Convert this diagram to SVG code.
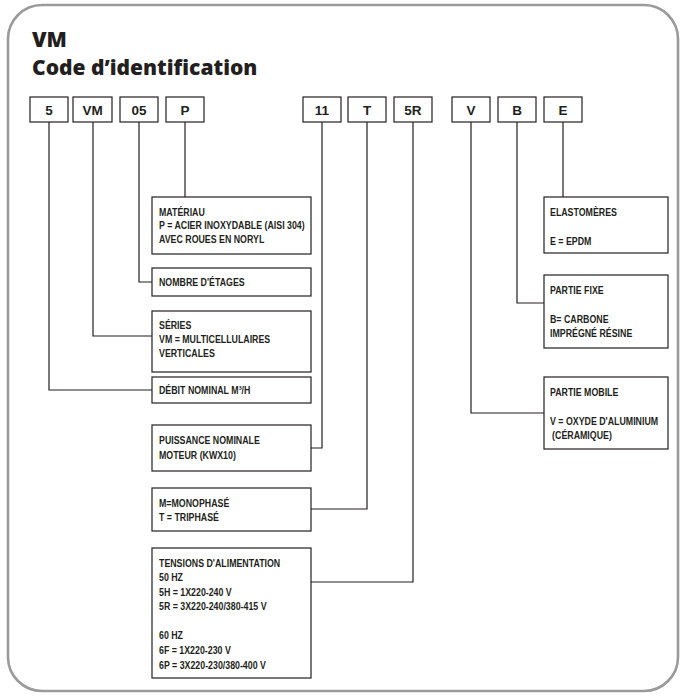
<svg xmlns="http://www.w3.org/2000/svg" width="680" height="697" viewBox="0 0 680 697">
<style>
.frame{fill:#fff;stroke:#9a9a9a;stroke-width:2.6}
.box{fill:#fff;stroke:#231f20;stroke-width:1.2}
.ln{fill:none;stroke:#231f20;stroke-width:1.2}
.title{font-family:"Open Sans","Liberation Sans",sans-serif;font-weight:800;font-size:21px;fill:#231f20}
.code{font-family:"Liberation Sans",Arial,sans-serif;font-weight:700;font-size:13.5px;fill:#231f20;text-anchor:middle}
.t{font-family:"Liberation Sans",Arial,sans-serif;font-weight:700;font-size:10.5px;fill:#231f20}
</style>
<rect class="frame" x="8" y="5" width="670" height="686" rx="34" ry="34"/>
<text class="title" x="32" y="47">VM</text>
<text class="title" x="32" y="74.5">Code d’identification</text>

<g id="connectors">
<polyline class="ln" points="49,122 49,390 152,390"/>
<polyline class="ln" points="93,122 93,336 152,336"/>
<polyline class="ln" points="139,122 139,282 152,282"/>
<polyline class="ln" points="185,122 185,197"/>
<polyline class="ln" points="322,122 322,448 311,448"/>
<polyline class="ln" points="367,122 367,509 311,509"/>
<polyline class="ln" points="413,122 413,582 311,582"/>
<polyline class="ln" points="471,122 471,413 544,413"/>
<polyline class="ln" points="517,122 517,303 544,303"/>
<polyline class="ln" points="563,122 563,197"/>
</g>

<g id="c-5"><rect class="box" x="30" y="97" width="38" height="25"/><text class="code" x="49" y="115">5</text></g>
<g id="c-vm"><rect class="box" x="73" y="97" width="39" height="25"/><text class="code" x="92.5" y="115">VM</text></g>
<g id="c-05"><rect class="box" x="120" y="97" width="38" height="25"/><text class="code" x="139" y="115">05</text></g>
<g id="c-p"><rect class="box" x="166" y="97" width="38" height="25"/><text class="code" x="185" y="115">P</text></g>
<g id="c-11"><rect class="box" x="303" y="97" width="38" height="25"/><text class="code" x="322" y="115">11</text></g>
<g id="c-t"><rect class="box" x="348" y="97" width="38" height="25"/><text class="code" x="367" y="115">T</text></g>
<g id="c-5r"><rect class="box" x="394" y="97" width="38" height="25"/><text class="code" x="413" y="115">5R</text></g>
<g id="c-v"><rect class="box" x="452" y="97" width="38" height="25"/><text class="code" x="471" y="115">V</text></g>
<g id="c-b"><rect class="box" x="498" y="97" width="38" height="25"/><text class="code" x="517" y="115">B</text></g>
<g id="c-e"><rect class="box" x="544" y="97" width="38" height="25"/><text class="code" x="563" y="115">E</text></g>

<g id="n-materiau"><rect class="box" x="152" y="197" width="159" height="57"/>
<g transform="translate(159,0) scale(0.84,1)">
<text class="t" x="0" y="216">MATÉRIAU</text>
<text class="t" x="0" y="229.5">P = ACIER INOXYDABLE (AISI 304)</text>
<text class="t" x="0" y="243">AVEC ROUES EN NORYL</text>
</g></g>

<g id="n-etages"><rect class="box" x="152" y="268" width="159" height="28"/>
<g transform="translate(159,0) scale(0.84,1)">
<text class="t" x="0" y="286">NOMBRE D'ÉTAGES</text>
</g></g>

<g id="n-series"><rect class="box" x="152" y="311" width="159" height="61"/>
<g transform="translate(159,0) scale(0.84,1)">
<text class="t" x="0" y="329.5">SÉRIES</text>
<text class="t" x="0" y="343.5">VM = MULTICELLULAIRES</text>
<text class="t" x="0" y="357.5">VERTICALES</text>
</g></g>

<g id="n-debit"><rect class="box" x="152" y="377" width="159" height="26"/>
<g transform="translate(159,0) scale(0.84,1)">
<text class="t" x="0" y="394.5">DÉBIT NOMINAL M³/H</text>
</g></g>

<g id="n-puissance"><rect class="box" x="152" y="425" width="159" height="46"/>
<g transform="translate(159,0) scale(0.84,1)">
<text class="t" x="0" y="444">PUISSANCE NOMINALE</text>
<text class="t" x="0" y="459">MOTEUR (KWX10)</text>
</g></g>

<g id="n-phase"><rect class="box" x="152" y="488" width="159" height="43"/>
<g transform="translate(159,0) scale(0.84,1)">
<text class="t" x="0" y="507">M=MONOPHASÉ</text>
<text class="t" x="0" y="521">T = TRIPHASÉ</text>
</g></g>

<g id="n-tensions"><rect class="box" x="152" y="548" width="159" height="130"/>
<g transform="translate(159,0) scale(0.84,1)">
<text class="t" x="0" y="567">TENSIONS D'ALIMENTATION</text>
<text class="t" x="0" y="581.5">50 HZ</text>
<text class="t" x="0" y="596">5H = 1X220-240 V</text>
<text class="t" x="0" y="610.5">5R = 3X220-240/380-415 V</text>
<text class="t" x="0" y="639.5">60 HZ</text>
<text class="t" x="0" y="654">6F = 1X220-230 V</text>
<text class="t" x="0" y="669">6P = 3X220-230/380-400 V</text>
</g></g>

<g id="n-elastomeres"><rect class="box" x="544" y="197" width="124" height="56"/>
<g transform="translate(550,0) scale(0.84,1)">
<text class="t" x="0" y="216">ELASTOMÈRES</text>
<text class="t" x="0" y="245.5">E = EPDM</text>
</g></g>

<g id="n-fixe"><rect class="box" x="544" y="275" width="124" height="73"/>
<g transform="translate(550,0) scale(0.84,1)">
<text class="t" x="0" y="294.5">PARTIE FIXE</text>
<text class="t" x="0" y="323.5">B= CARBONE</text>
<text class="t" x="0" y="337">IMPRÉGNÉ RÉSINE</text>
</g></g>

<g id="n-mobile"><rect class="box" x="544" y="377" width="124" height="72"/>
<g transform="translate(550,0) scale(0.84,1)">
<text class="t" x="0" y="396">PARTIE MOBILE</text>
<text class="t" x="0" y="425.5">V = OXYDE D'ALUMINIUM</text>
<text class="t" x="2.5" y="439">(CÉRAMIQUE)</text>
</g></g>
</svg>
